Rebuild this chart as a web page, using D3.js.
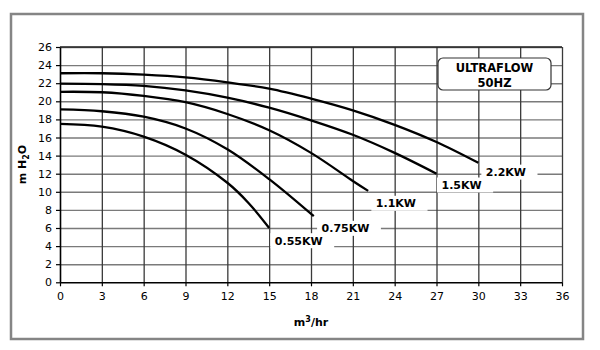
<!DOCTYPE html>
<html><head><meta charset="utf-8">
<script src="https://cdn.jsdelivr.net/npm/d3@7"></script>
<style>
body{margin:0;background:#fff;}
svg{display:block;font-family:"DejaVu Sans",Verdana,sans-serif;}
</style></head>
<body><svg id="c" width="600" height="350"></svg>
<script>
// ---- data ----
const seriesNames = ["2.2KW","1.5KW","1.1KW","0.75KW","0.55KW"];
const flow22 = [0,3,6,9,12,15,18,21,24,27,30];
const head22 = [23.1,23.1,22.95,22.65,22.1,21.4,20.3,19.0,17.4,15.5,13.2];
const flow15 = [0,3,6,9,12,15,18,21,24,27];
const head15 = [21.95,21.9,21.7,21.2,20.4,19.3,17.9,16.3,14.3,12.0];
const flow11 = [0,3,6,9,12,15,18,21,22.1];
const head11 = [21.05,21.0,20.6,19.9,18.6,16.8,14.3,11.2,10.1];
const flow075 = [0,3,6,9,12,15,18.2];
const head075 = [19.1,18.9,18.3,17.0,14.7,11.4,7.3];
const flow055 = [0,3,6,9,12,13.5,15];
const head055 = [17.5,17.2,16.1,14.1,11.0,8.8,6.0];
const xTicks = [0,3,6,9,12,15,18,21,24,27,30,33,36];
const yTicks = [0,2,4,6,8,10,12,14,16,18,20,22,24,26];
const titleLines = ["ULTRAFLOW","50HZ"];

// ---- build ----
const flows = [flow22,flow15,flow11,flow075,flow055];
const heads = [head22,head15,head11,head075,head055];
const series = seriesNames.map((n,i)=>({name:n, pts:flows[i].map((f,j)=>[f,heads[i][j]])}));
// label offsets from curve end (px)
const labelOff = [[7.5,9.3],[5,11.3],[7.7,12.4],[7.8,12.1],[5.7,12.7]];

const svg = d3.select("#c");
const L=60, R=562, T=47, B=282.3;
const x = d3.scaleLinear().domain([0,36]).range([L,R]);
const y = d3.scaleLinear().domain([0,26]).range([B,T]);

// outer frame
svg.append("rect").attr("x",11).attr("y",14).attr("width",572).attr("height",325)
  .attr("fill","#fff").attr("stroke","#858585").attr("stroke-width",2.5);

// horizontal grid
svg.append("g").attr("transform",`translate(${L},0)`)
  .call(d3.axisLeft(y).tickValues(yTicks.slice(1)).tickSize(-(R-L)).tickFormat(""))
  .call(g=>{g.select(".domain").remove();g.selectAll("line").attr("stroke","#7a7a7a").attr("stroke-width",1.4);});
// vertical grid
svg.append("g").attr("transform",`translate(0,${B})`)
  .call(d3.axisBottom(x).tickValues(xTicks.slice(1)).tickSize(-(B-T)).tickFormat(""))
  .call(g=>{g.select(".domain").remove();g.selectAll("line").attr("stroke","#3a3a3a").attr("stroke-width",1.3);});
// top border line
svg.append("line").attr("x1",L).attr("x2",R).attr("y1",T).attr("y2",T).attr("stroke","#222").attr("stroke-width",1.4);

// axes
const xa = svg.append("g").attr("transform",`translate(0,${B})`)
  .call(d3.axisBottom(x).tickValues(xTicks).tickSize(4).tickSizeOuter(0).tickPadding(6));
const ya = svg.append("g").attr("transform",`translate(${L},0)`)
  .call(d3.axisLeft(y).tickValues(yTicks).tickSize(4).tickSizeOuter(0).tickPadding(4));
[xa,ya].forEach(a=>{
  a.select(".domain").attr("stroke","#000").attr("stroke-width",1.6);
  a.selectAll(".tick line").attr("stroke","#000").attr("stroke-width",1.2);
  a.selectAll(".tick text").attr("font-size",11).attr("fill","#000").attr("font-family","DejaVu Sans");
});

// legend/title box
const tb = svg.append("g");
tb.append("rect").attr("x",438).attr("y",58).attr("width",113).attr("height",32).attr("rx",5)
  .attr("fill","#fff").attr("stroke","#333").attr("stroke-width",1.2);
titleLines.forEach((t,i)=>tb.append("text").attr("x",494.5).attr("y",72+i*14.5)
  .attr("text-anchor","middle").attr("font-size",11.5).attr("font-weight","bold").text(t));

// labels with white boxes
const lg = svg.append("g");
series.forEach((s,i)=>{
  const e = s.pts[s.pts.length-1];
  const tx = x(e[0])+labelOff[i][0], ty = y(e[1])+labelOff[i][1];
  const bg = lg.append("rect");
  const t = lg.append("text").attr("x",tx).attr("y",ty+4).attr("font-size",11)
    .attr("font-weight","bold").text(s.name);
  const w = t.node().getComputedTextLength();
  bg.attr("x",tx-4.5).attr("y",ty-7.5).attr("width",w+16).attr("height",15).attr("fill","#fff");
});

// curves
const line = d3.line().x(d=>x(d[0])).y(d=>y(d[1])).curve(d3.curveCatmullRom.alpha(0.5));
svg.append("g").selectAll("path").data(series).join("path")
  .attr("d",d=>line(d.pts)).attr("fill","none").attr("stroke","#000").attr("stroke-width",2.3);

// axis titles
svg.append("text").attr("x",(L+R)/2).attr("y",326).attr("text-anchor","middle")
  .attr("font-size",11).attr("font-weight","bold")
  .call(t=>{t.append("tspan").text("m");t.append("tspan").attr("dy",-4).attr("font-size",8).text("3");t.append("tspan").attr("dy",4).text("/hr");});
svg.append("text").attr("transform",`translate(26,${(T+B)/2}) rotate(-90)`).attr("text-anchor","middle")
  .attr("font-size",11).attr("font-weight","bold")
  .call(t=>{t.append("tspan").text("m H");t.append("tspan").attr("dy",3).attr("font-size",8).text("2");t.append("tspan").attr("dy",-3).text("O");});
</script></body></html>
